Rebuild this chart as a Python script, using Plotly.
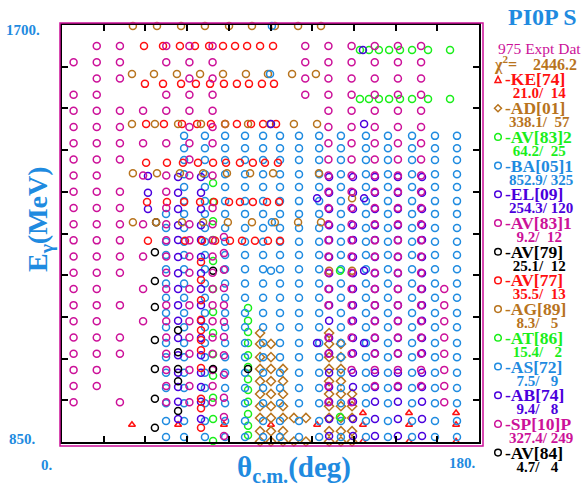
import plotly.graph_objects as go

# ---------------------------------------------------------------- data
# Each data set: energies (MeV) and, per energy, the c.m. angles (deg).

KE74_E = [909, 885, 851]
KE74_TH = [[129.9, 149.8, 170.1],
           [30.2, 50.1, 69.9, 90.2, 110.1, 129.9, 149.8, 170.1],
           [129.9, 149.8, 170.1]]

AD01_E = [1072, 1050, 1023, 999, 974, 948, 923, 899, 872, 851]
AD01_TH = [[85.5, 115.3],
           [85.5, 90.2, 115.3, 120.4],
           [85.5, 90.2, 115.3, 120.4],
           [85.5, 90.2, 95.4, 115.3, 120.4],
           [85.5, 90.2, 95.4, 115.3, 120.4],
           [85.5, 90.2, 95.4, 115.3, 120.4, 125.2],
           [85.5, 90.2, 95.4, 115.3, 120.4, 125.2],
           [85.5, 90.2, 95.4, 100.1, 105.3, 115.3, 120.4, 125.2],
           [85.5, 90.2, 95.4, 115.3, 120.4, 125.2],
           [85.5, 90.2, 95.4, 100.1, 105.3, 115.3, 120.4, 125.2]]

AV83B_E = [1649, 1549]
AV83B_TH = [[128.6, 132.5, 136.8, 141.2, 145.9, 151.1, 158.0, 167.5],
            [128.6, 132.5, 136.8, 141.2, 145.9, 151.1, 158.0, 167.5]]
AV83B_COL_TH = [65.2, 80.3]
AV83B_COL_E = [[1378, 1339, 1300, 1262, 1219, 1162, 1115, 1072, 1029, 985, 940, 897, 852],
               [1123, 1097, 1074, 1052, 1027, 1003, 978, 956, 932, 907, 883, 864]]

BA05_TH_LOW = [44.9, 52.7, 61.7, 70.4, 79.0, 86.8, 94.1, 102.3, 111.0,
               120.4, 131.2, 140.7, 151.1, 161.0, 170.5]
BA05_TH_HIGH = [52.7, 61.7, 70.4, 79.0, 86.8, 94.1, 102.3, 111.0,
                120.4, 131.2, 140.7, 151.1, 161.0, 170.5]
BA05_E_HIGH = [1474, 1449, 1425, 1396, 1370, 1341]
BA05_E_LOW = [1315, 1286, 1258, 1231, 1202, 1173, 1144, 1113, 1084, 1052,
              1023, 991, 960, 929, 893, 860]

EL09_TH_A = [37.1]
EL09_E_A = [1392, 1358, 1325]
EL09_TH_B = [50.1, 60.0]
EL09_E_B = [1390, 1358, 1325, 1292, 1262, 1227, 1194, 1162, 1129, 1097,
            1062, 1027, 991, 962, 932, 897]
EL09_TH_C = [115.3, 125.6, 135.1, 145.0, 155.4]
EL09_E_C = [1390, 1358, 1325, 1292, 1262, 1227, 1194, 1162, 1129, 1097,
            1062, 1031, 991, 962, 932, 897, 862]

AV83A_TH = [69.9] * 12
AV83A_E = [1268, 1235, 1201, 1164, 1129, 1095, 1064, 1027, 987, 940, 901, 862]

AV79_TH = [40.6, 40.1, 40.1, 65.2, 40.1, 50.1, 40.1, 50.1, 50.1, 40.1, 50.1, 40.1]
AV79_E = [1298, 1237, 1178, 1199, 1125, 1078, 1058, 1033, 974, 938, 913, 879]

AV77_E = [1657, 1580, 1498, 1419, 1339, 1260]
AV77_TH = [[35.4, 43.6, 50.9, 57.4, 63.5, 69.5, 74.7, 79.9, 85.5, 91.1],
           [35.8, 43.6, 51.4, 57.8, 63.9, 69.9, 75.5, 80.7, 86.3, 91.5],
           [36.3, 44.0, 51.8, 58.3, 64.3, 70.4, 75.5, 81.6, 86.8, 92.4],
           [36.3, 45.3, 52.2, 58.7, 65.2, 70.8, 76.8, 82.4, 87.6, 93.2],
           [36.7, 45.3, 52.7, 59.6, 65.6, 72.1, 76.8, 82.4, 88.5, 93.7],
           [37.1, 53.1, 60.4, 66.1, 72.5, 77.7, 83.3, 88.9, 94.1]]
AV77_COL_TH = 60.0
AV77_COL_E = [1217, 1180, 1139, 1099, 1078, 1058, 1037, 1001, 938, 919, 879]

AG89_E = [1698, 1600, 1498, 1398, 1298]
AG89_TH = [[30.6, 41.0, 51.4, 61.7, 72.1, 82.0, 91.9, 101.9, 111.8],
           [30.2, 39.7, 49.6, 59.6, 69.5, 79.4, 88.9, 99.3, 109.6],
           [30.2, 40.1, 50.1, 60.0, 70.4, 80.3, 89.8, 100.1, 110.1],
           [30.6, 41.0, 50.9, 60.9, 71.2, 81.2, 91.1, 110.9],
           [30.6, 40.6, 51.8, 60.9, 71.6, 82.0, 91.9, 101.9, 111.8]]
AG89_X_TH = [125.2, 115.3, 125.2]
AG89_X_E = [1347, 1199, 1199]

AT86_TH = [120.0, 120.0]
AT86_E = [1199, 901]

AS72_TH = [90.6, 89.8, 90.6, 90.2]
AS72_E = [1698, 1600, 1298, 1199]

AB74_TH = [129.9, 90.2, 130.4, 110.1, 130.4, 130.4, 130.4, 110.1]
AB74_E = [1649, 1498, 1498, 1347, 1347, 1199, 1052, 1052]

SP10_E = [1657, 1624, 1591, 1558, 1525, 1492, 1459, 1426, 1393, 1360, 1327,
          1294, 1261, 1228, 1195, 1162, 1129, 1096, 1063, 1030, 997, 964, 931]
SP10_TH = [
    [15, 25, 45, 55, 65, 105, 115, 125, 135, 145, 155],
    [5, 15, 25, 45, 55, 65, 105, 115, 125, 135, 145, 155],
    [15, 25, 55, 65, 105, 115, 125, 135, 145, 155],
    [5, 15, 45, 55, 65, 105, 115, 125, 135, 145, 155],
    [5, 15, 25, 35, 45, 55, 65, 115, 125, 135, 145, 155],
    [5, 15, 25, 55, 65, 115, 125, 135, 145, 155],
    [5, 15, 25, 35, 45, 55, 65, 115, 125, 135, 145, 155],
    [5, 15, 25, 55, 115, 125, 135, 145, 155],
    [5, 15, 35, 45, 55, 65, 115, 125, 135, 145, 155],
    [5, 15, 25, 45, 115, 125, 135, 145, 155],
    [5, 15, 25, 45, 65, 115, 125, 135, 145, 155],
    [5, 15, 25, 35, 45, 55, 65, 115, 125, 135, 145, 155],
    [5, 15, 25, 45, 55, 65, 115, 125, 135, 145, 155],
    [5, 15, 25, 35, 45, 55, 65, 115, 125, 135, 145, 155],
    [5, 15, 25, 45, 55, 65, 115, 125, 135, 145, 155],
    [5, 15, 35, 45, 55, 65, 115, 125, 135, 145, 155, 165],
    [5, 15, 25, 45, 55, 65, 115, 125, 135, 145, 155, 165],
    [5, 15, 35, 45, 55, 65, 125, 135, 145, 155, 165],
    [5, 15, 25, 45, 55, 65, 115, 125, 135, 145, 155, 165],
    [5, 15, 25, 45, 55, 65, 115, 125, 135, 145, 155, 165],
    [5, 15, 45, 55, 65, 125, 135, 145, 155, 165],
    [5, 15, 45, 55, 65, 115, 135, 145, 155, 165],
    [5, 25, 45, 55, 65, 115, 125, 165],
]

AV84_TH = [40.1, 50.1, 65.2, 80.3]
AV84_E = [999, 999, 999, 999]

# legend table: label, chi^2, number of points
LABELS = ["-KE[74]", "-AD[01]", "-AV[83]2", "-BA[05]1", "-EL[09]", "-AV[83]1",
          "-AV[79]", "-AV[77]", "-AG[89]", "-AT[86]", "-AS[72]", "-AB[74]",
          "-SP[10]P", "-AV[84]"]
CHI2 = [21.0, 338.1, 64.2, 852.9, 254.3, 9.2, 25.1, 35.5, 8.3, 15.4, 7.5, 9.4, 327.4, 4.7]
NPTS = [14, 57, 25, 325, 120, 12, 12, 13, 5, 2, 9, 8, 249, 4]
N_TOTAL = 975
CHI2_TOTAL = 2446.2

# ---------------------------------------------------------------- style
MAG = "#cc1199"
RED = "#ff1010"
BRN = "#b8741e"
GRN = "#1aee1a"
BLU = "#1f8be0"
VIO = "#4a00dd"
BLK = "#000000"
SERIF = "Liberation Serif"

COLORS = [RED, BRN, GRN, BLU, VIO, MAG, BLK, RED, BRN, GRN, BLU, VIO, MAG, BLK]
SYMBOLS = ["triangle-up-open", "diamond-open"] + ["circle-open"] * 12

# plot frame in pixels
W, H = 582, 486
L, R, T, B = 62, 479, 25, 442


def px(x):
    return (x - L) / (R - L)


def py(y):
    return (B - y) / (B - T)


def rows(energies, angle_rows):
    xs, ys = [], []
    for e, ths in zip(energies, angle_rows):
        for th in ths:
            xs.append(th)
            ys.append(e)
    return xs, ys


def grid(angles, energies):
    xs, ys = [], []
    for e in energies:
        for th in angles:
            xs.append(th)
            ys.append(e)
    return xs, ys


def join(*parts):
    xs, ys = [], []
    for a, b in parts:
        xs += list(a)
        ys += list(b)
    return xs, ys


series = [
    rows(KE74_E, KE74_TH),
    rows(AD01_E, AD01_TH),
    join(rows(AV83B_E, AV83B_TH),
         *[([th] * len(es), es) for th, es in zip(AV83B_COL_TH, AV83B_COL_E)]),
    join(grid(BA05_TH_HIGH, BA05_E_HIGH), grid(BA05_TH_LOW, BA05_E_LOW)),
    join(grid(EL09_TH_A, EL09_E_A), grid(EL09_TH_B, EL09_E_B), grid(EL09_TH_C, EL09_E_C)),
    (AV83A_TH, AV83A_E),
    (AV79_TH, AV79_E),
    join(rows(AV77_E, AV77_TH), ([AV77_COL_TH] * len(AV77_COL_E), AV77_COL_E)),
    join(rows(AG89_E, AG89_TH), (AG89_X_TH, AG89_X_E)),
    (AT86_TH, AT86_E),
    (AS72_TH, AS72_E),
    (AB74_TH, AB74_E),
    rows(SP10_E, SP10_TH),
    (AV84_TH, AV84_E),
]

fig = go.Figure()
for (xs, ys), col, sym, lab in zip(series, COLORS, SYMBOLS, LABELS):
    size = 6 if sym.startswith("triangle") else 7
    fig.add_trace(go.Scatter(
        x=xs, y=ys, mode="markers", name=lab, cliponaxis=False,
        marker=dict(symbol=sym, size=size, color=col, line=dict(color=col, width=1.5)),
    ))

axis_common = dict(showgrid=False, zeroline=False, showticklabels=False,
                   ticks="inside", ticklen=6, tickwidth=1.5, tickcolor="black",
                   showline=True, linewidth=2, linecolor="black", mirror="ticks")
fig.update_xaxes(range=[0, 180], tick0=0, dtick=18, **axis_common)
fig.update_yaxes(range=[850, 1700], tick0=850, dtick=85, **axis_common)

# magenta outer frame just outside the axis box
shapes = [dict(type="rect", xref="paper", yref="paper",
               x0=px(60), x1=px(483), y0=py(446), y1=py(23),
               line=dict(color=MAG, width=1.5), layer="above")]

ann = []


def text(x, y, s, color, size, xanchor="left", bold=True, **kw):
    ann.append(dict(x=px(x), y=py(y), xref="paper", yref="paper",
                    text=("<b>%s</b>" % s) if bold else s,
                    showarrow=False, xanchor=xanchor, yanchor="middle",
                    font=dict(family=SERIF, size=size, color=color), **kw))


# axis end labels
text(47, 465, "0.", BLU, 15, xanchor="center")
text(462, 463, "180.", BLU, 15, xanchor="center")
text(22, 439, "850.", BLU, 15, xanchor="center")
text(23, 30, "1700.", BLU, 15, xanchor="center")

# axis titles
text(294, 469, "θ<sub>c.m.</sub>(deg)", BLU, 29, xanchor="center")
text(39, 219, "E<sub>γ</sub>(MeV)", BLU, 28, xanchor="center", textangle=-90)

# header
text(579, 17, "PI0P S", BLU, 24, xanchor="right")
text(496, 48, "%d Expt Dat" % N_TOTAL, MAG, 15.5, bold=False)
text(492, 64, "χ<sup>2</sup>=\u00a0\u00a0\u00a0\u00a0%.1f" % CHI2_TOTAL, BRN, 16)

NB = "\u00a0"
y0 = 79.5
step = 28.7
for i, (lab, chi, n, col, sym) in enumerate(zip(LABELS, CHI2, NPTS, COLORS, SYMBOLS)):
    yl = y0 + i * step
    text(503, yl, lab, col, 17.5)
    val = ("%5.1f/%4d" % (chi, n)).replace(" ", NB)
    text(507, yl + 14, val, col, 15)
    mx = 498
    if sym.startswith("triangle"):
        shapes.append(dict(type="path", xref="paper", yref="paper",
                           path="M %f %f L %f %f L %f %f Z" % (px(mx - 3), py(yl + 3), px(mx + 3), py(yl + 3), px(mx), py(yl - 3)),
                           line=dict(color=col, width=1.5)))
    elif sym.startswith("diamond"):
        shapes.append(dict(type="path", xref="paper", yref="paper",
                           path="M %f %f L %f %f L %f %f L %f %f Z" % (px(mx - 3.5), py(yl), px(mx), py(yl - 3.5), px(mx + 3.5), py(yl), px(mx), py(yl + 3.5)),
                           line=dict(color=col, width=1.5)))
    else:
        shapes.append(dict(type="circle", xref="paper", yref="paper",
                           x0=px(mx - 3.3), x1=px(mx + 3.3), y0=py(yl + 3.3), y1=py(yl - 3.3),
                           line=dict(color=col, width=1.5)))

fig.update_layout(
    width=W, height=H, autosize=False,
    margin=dict(l=L, r=W - R, t=T, b=H - B, pad=0),
    paper_bgcolor="white", plot_bgcolor="white",
    showlegend=False, shapes=shapes, annotations=ann,
)

fig.write_html("out.html")
